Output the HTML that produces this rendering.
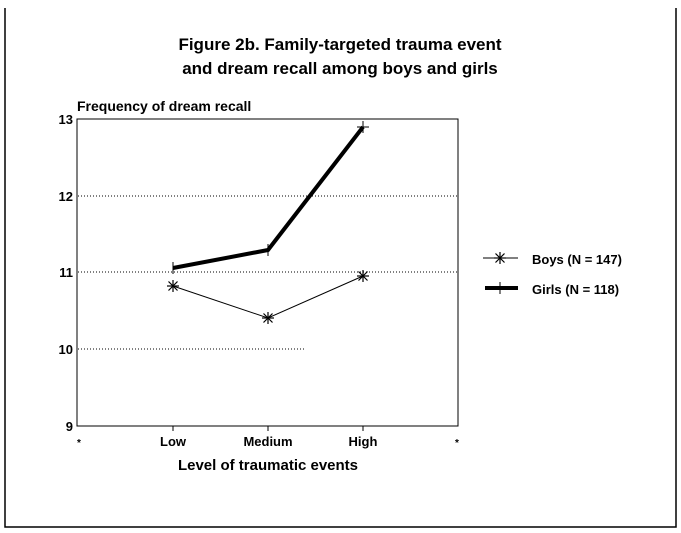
<!DOCTYPE html>
<html><head><style>body{margin:0;background:#fff}svg{display:block}</style></head><body>
<svg width="681" height="533" xmlns="http://www.w3.org/2000/svg" font-family="Liberation Sans, sans-serif">
<defs><g id="ast" stroke="#000" stroke-width="1.2"><line x1="-6" y1="0" x2="6" y2="0"/><line x1="0" y1="-6" x2="0" y2="6"/><line x1="-4.5" y1="-4.5" x2="4.5" y2="4.5"/><line x1="-4.5" y1="4.5" x2="4.5" y2="-4.5"/></g></defs>
<rect width="681" height="533" fill="#fff"/>
<path d="M5 8 V527 H676 V8" fill="none" stroke="#000" stroke-width="1.5"/>
<text x="340" y="50" font-size="17" font-weight="bold" text-anchor="middle">Figure 2b. Family-targeted trauma event</text>
<text x="340" y="74" font-size="17" font-weight="bold" text-anchor="middle">and dream recall among boys and girls</text>
<text x="77" y="111" font-size="14" font-weight="bold">Frequency of dream recall</text>
<g stroke="#000" stroke-width="1" stroke-dasharray="1,2">
<line x1="78" y1="196" x2="457" y2="196"/><line x1="78" y1="272" x2="457" y2="272"/><line x1="78" y1="349" x2="305" y2="349"/>
</g>
<rect x="77" y="119" width="381" height="307" fill="none" stroke="#000" stroke-width="1"/>
<g stroke="#000"><line x1="173" y1="426" x2="173" y2="431"/><line x1="268" y1="426" x2="268" y2="431"/><line x1="363" y1="426" x2="363" y2="431"/></g>
<g font-size="13" font-weight="bold" text-anchor="end"><text x="73" y="124">13</text><text x="73" y="201">12</text><text x="73" y="277">11</text><text x="73" y="354">10</text><text x="73" y="431">9</text></g>
<g font-size="13" font-weight="bold" text-anchor="middle"><text x="173" y="446">Low</text><text x="268" y="446">Medium</text><text x="363" y="446">High</text><text x="79" y="446" font-size="10">*</text><text x="457" y="446" font-size="10">*</text></g>
<text x="268" y="470" font-size="15" font-weight="bold" text-anchor="middle">Level of traumatic events</text>
<polyline points="173,268 268,250 363,127" fill="none" stroke="#000" stroke-width="4"/>
<polyline points="173,286 268,318 363,276" fill="none" stroke="#000" stroke-width="1"/>
<use href="#ast" x="173" y="286"/><use href="#ast" x="268" y="318"/><use href="#ast" x="363" y="276"/><use href="#ast" x="500" y="258"/>
<g stroke="#000"><line x1="173" y1="262" x2="173" y2="274"/><line x1="268" y1="244" x2="268" y2="256"/><line x1="363" y1="121" x2="363" y2="133"/><line x1="357" y1="127" x2="369" y2="127"/></g>
<line x1="483" y1="258" x2="518" y2="258" stroke="#000" stroke-width="1"/>
<line x1="485" y1="288" x2="518" y2="288" stroke="#000" stroke-width="4"/>
<line x1="500" y1="282" x2="500" y2="294" stroke="#000"/>
<g font-size="13" font-weight="bold"><text x="532" y="264">Boys (N = 147)</text><text x="532" y="294">Girls (N = 118)</text></g>
</svg>
</body></html>
